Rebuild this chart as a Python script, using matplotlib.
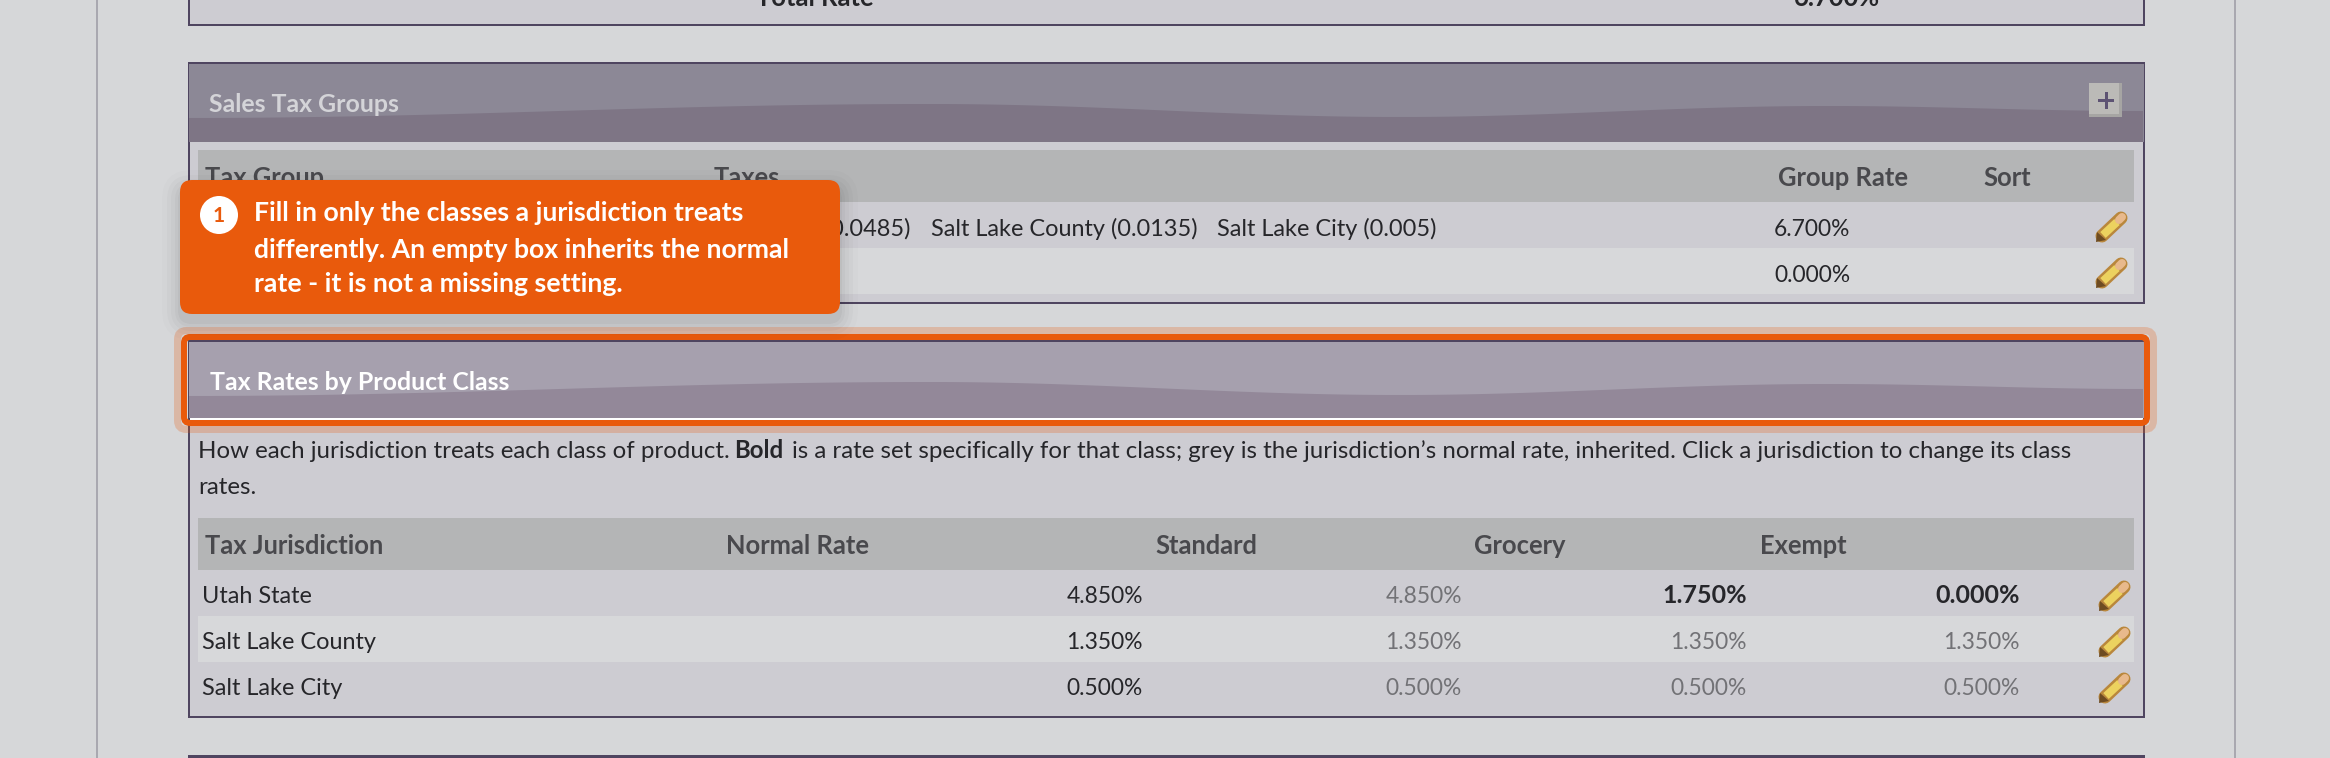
"""Tax rates admin screen: callout over the sales tax panels, drawn in pixel coords."""

import matplotlib
matplotlib.use("Agg")
import matplotlib.pyplot as plt
import numpy as np
from matplotlib.patches import FancyBboxPatch, Polygon, Rectangle, Circle

plt.rcParams["font.family"] = ["Lato", "DejaVu Sans"]

W, H = 2330, 758
FS_INTRO = 17.25   # sentence above the table, pt
FS_CELL = 16.9     # names and taxes
FS_RATE = 16.4     # percentages
FS_HEAD = 18.4     # column headers
FS_TITLE = 17.9    # panel titles
FS_NOTE = 19.2     # callout
PX = 0.72          # one pixel in points at dpi 100

BG = "#d6d7d9"
BODY = "#cdccd2"
ALT = "#d7d8da"
THEAD = "#b4b5b6"
BORDER = "#4f4560"
ORANGE = "#e95a0c"
DARK = "#26262a"
HEAD = "#49494d"
GREY = "#727276"

# sales tax groups panel
group_cols = ["Tax Group", "Taxes", "Group Rate", "Sort"]
group_taxes = ["Utah State (0.0485)", "Salt Lake County (0.0135)", "Salt Lake City (0.005)"]
group_rates = [6.7, 0.0]

# product class panel
class_cols = ["Tax Jurisdiction", "Normal Rate", "Standard", "Grocery", "Exempt"]
jurisdictions = ["Utah State", "Salt Lake County", "Salt Lake City"]
normal_rate = [4.85, 1.35, 0.5]
standard_rate = [4.85, 1.35, 0.5]
grocery_rate = [1.75, 1.35, 0.5]
exempt_rate = [0.0, 1.35, 0.5]
grocery_set = [True, False, False]
exempt_set = [True, False, False]

callout_lines = [
    "Fill in only the classes a jurisdiction treats",
    "differently. An empty box inherits the normal",
    "rate - it is not a missing setting.",
]

# crests and troughs of the header swoosh, relative to header top
wave_x = [189, 930, 1400, 1828, 2143]
wave_y = [54, 40, 53, 42, 47]


def rect(ax, x0, y0, x1, y1, color, z=1):
    ax.add_patch(Rectangle((x0, y0), x1 - x0, y1 - y0, fc=color, ec="none", lw=0, zorder=z))


def rrect(ax, x0, y0, x1, y1, r, z=1, **kw):
    ax.add_patch(FancyBboxPatch((x0 + r, y0 + r), x1 - x0 - 2 * r, y1 - y0 - 2 * r,
                                boxstyle=f"round,pad={r},rounding_size={r}", zorder=z, **kw))


def txt(ax, x, y, s, color=DARK, weight="normal", size=FS_CELL, ha="left", z=3):
    ax.text(x, y, s, color=color, fontweight=weight, fontsize=size, ha=ha, va="baseline", zorder=z)


def header(ax, top, bottom, upper, lower):
    rect(ax, 189, top, 2144, bottom, upper)
    pts = []
    for i in range(len(wave_x) - 1):
        # eased segment between two knots, just so the swoosh has no corners
        t = np.linspace(0, 1, 40)
        ease = (1 - np.cos(np.pi * t)) / 2
        xs = wave_x[i] + (wave_x[i + 1] - wave_x[i]) * t
        ys = wave_y[i] + (wave_y[i + 1] - wave_y[i]) * ease
        pts += [(x, top + y) for x, y in zip(xs, ys)]
    ax.add_patch(Polygon(pts + [(2143, bottom), (189, bottom)], fc=lower, ec="none", zorder=1.1))


def pencil(ax, x0, y0):
    # tip at lower left, eraser at upper right, 31 x 29 px
    tx, ty = x0, y0 + 29
    ex, ey = x0 + 30, y0
    ax.plot([tx + 6, ex - 5], [ty - 6, ey + 5], color="#b9873c", lw=13 * PX,
            solid_capstyle="round", zorder=3)
    ax.plot([tx + 7, ex - 9], [ty - 7, ey + 9], color="#ecd25f", lw=8 * PX,
            solid_capstyle="butt", zorder=3.1)
    ax.plot([ex - 7, ex - 4], [ey + 7, ey + 4], color="#e8b98c", lw=8 * PX,
            solid_capstyle="round", zorder=3.1)
    ax.add_patch(Polygon([(tx, ty), (tx + 1, ty - 10), (tx + 10, ty - 2)], fc="#6e4c22", ec="none", zorder=3.2))


fig = plt.figure(figsize=(W / 100, H / 100), dpi=100)
ax = fig.add_axes([0, 0, 1, 1])
ax.set_xlim(0, W)
ax.set_ylim(H, 0)
ax.axis("off")

# page
rect(ax, 0, 0, W, H, BG, z=0)
rect(ax, 96, 0, 98, H, "#a9a8b0")
rect(ax, 2234, 0, 2236, H, "#a9a8b0")

# bottom of the panel above
rect(ax, 188, 0, 2145, 26, BORDER)
rect(ax, 190, 0, 2143, 24, BODY)
txt(ax, 756, 6, "Total Rate", weight="bold", size=FS_HEAD)
txt(ax, 1794, 6, "6.700%", weight="bold", size=FS_HEAD)

# sales tax groups panel
rect(ax, 188, 62, 2145, 304, BORDER)
rect(ax, 190, 64, 2143, 302, BODY)
header(ax, 64, 142, "#8c8896", "#7e7585")
txt(ax, 209, 112, "Sales Tax Groups", color="#d4d4d8", weight="bold", size=FS_TITLE)
rect(ax, 198, 150, 2134, 202, THEAD)
rect(ax, 198, 248, 2134, 294, ALT)
for x, name in zip([205, 714, 1778, 1983], group_cols):
    txt(ax, x, 186, name, color=HEAD, weight="bold", size=FS_HEAD)
for x, name, ha in zip([910, 931, 1217], group_taxes, ["right", "left", "left"]):
    txt(ax, x, 236, name, ha=ha)
for y, val in zip([236, 282], group_rates):
    txt(ax, 1774, y, f"{val:.3f}%", size=FS_RATE)
for y in [202, 248]:
    pencil(ax, 2096, y + 11)

# expand button
rect(ax, 2089, 83, 2122, 117, "#a6a5a3", z=2)
rect(ax, 2089, 83, 2119, 114, "#bbbab7", z=2)
rect(ax, 2098, 99, 2114, 102, "#5d5373", z=2.1)
rect(ax, 2105, 92, 2108, 109, "#5d5373", z=2.1)

# product class panel
rect(ax, 188, 338, 2145, 718, BORDER)
rect(ax, 190, 342, 2143, 716, BODY)
header(ax, 342, 418, "#a6a0ae", "#938899")
rect(ax, 190, 418, 2143, 420, "#ffffff", z=1.2)
txt(ax, 210, 390, "Tax Rates by Product Class", color="#ffffff", weight="bold", size=FS_TITLE)

txt(ax, 198, 458, "How each jurisdiction treats each class of product.", size=FS_INTRO)
txt(ax, 734, 458, "Bold", weight="bold", size=FS_INTRO)
txt(ax, 792, 458, "is a rate set specifically for that class; grey is the jurisdiction\u2019s "
                  "normal rate, inherited. Click a jurisdiction to change its class", size=FS_INTRO)
txt(ax, 198, 494, "rates.", size=FS_INTRO)

rect(ax, 198, 518, 2134, 570, THEAD)
rect(ax, 198, 616, 2134, 662, ALT)
for x, name in zip([205, 726, 1155, 1474, 1760], class_cols):
    txt(ax, x, 554, name, color=HEAD, weight="bold", size=FS_HEAD)

row_tops = [570, 616, 662]
for i, top in enumerate(row_tops):
    base = top + 33
    txt(ax, 202, base, jurisdictions[i])
    txt(ax, 1143, base, f"{normal_rate[i]:.3f}%", ha="right", size=FS_RATE)
    txt(ax, 1462, base, f"{standard_rate[i]:.3f}%", color=GREY, ha="right", size=FS_RATE)
    txt(ax, 1747, base, f"{grocery_rate[i]:.3f}%", ha="right",
        color=DARK if grocery_set[i] else GREY, weight="bold" if grocery_set[i] else "normal",
        size=18 if grocery_set[i] else FS_RATE)
    txt(ax, 2020, base, f"{exempt_rate[i]:.3f}%", ha="right",
        color=DARK if exempt_set[i] else GREY, weight="bold" if exempt_set[i] else "normal",
        size=18 if exempt_set[i] else FS_RATE)
    pencil(ax, 2099, top + 12)

# next panel peeking in at the bottom
rect(ax, 188, 755, 2145, H, BORDER)
rect(ax, 190, 758, 2143, H, BODY)

# highlight ring
ax.add_patch(FancyBboxPatch((181, 334), 1969, 92, boxstyle="round,pad=3.5,rounding_size=9",
                            fc="none", ec=ORANGE, lw=7 * PX, alpha=0.25, zorder=4))
ax.add_patch(FancyBboxPatch((184, 337), 1963, 86, boxstyle="round,pad=0,rounding_size=6",
                            fc="none", ec=ORANGE, lw=6 * PX, zorder=4.1))

# callout with soft shadow
for grow, alpha in zip([18, 13, 9, 5, 2], [0.012, 0.018, 0.022, 0.028, 0.035]):
    rrect(ax, 180 - grow, 188 - grow, 840 + grow, 322 + grow, 12 + grow, z=5, fc="#000000", ec="none", alpha=alpha)
rrect(ax, 180, 180, 840, 314, 12, z=5.5, fc=ORANGE, ec="none")
ax.add_patch(Circle((219, 215), 19, fc="#ffffff", ec="none", zorder=6))
txt(ax, 219, 222, "1", color=ORANGE, weight="bold", size=15, ha="center", z=6.1)
for y, line in zip([221, 258, 292], callout_lines):
    txt(ax, 254, y, line, color="#ffffff", weight="bold", size=FS_NOTE, z=6)

fig.savefig("out.png", dpi=100)
